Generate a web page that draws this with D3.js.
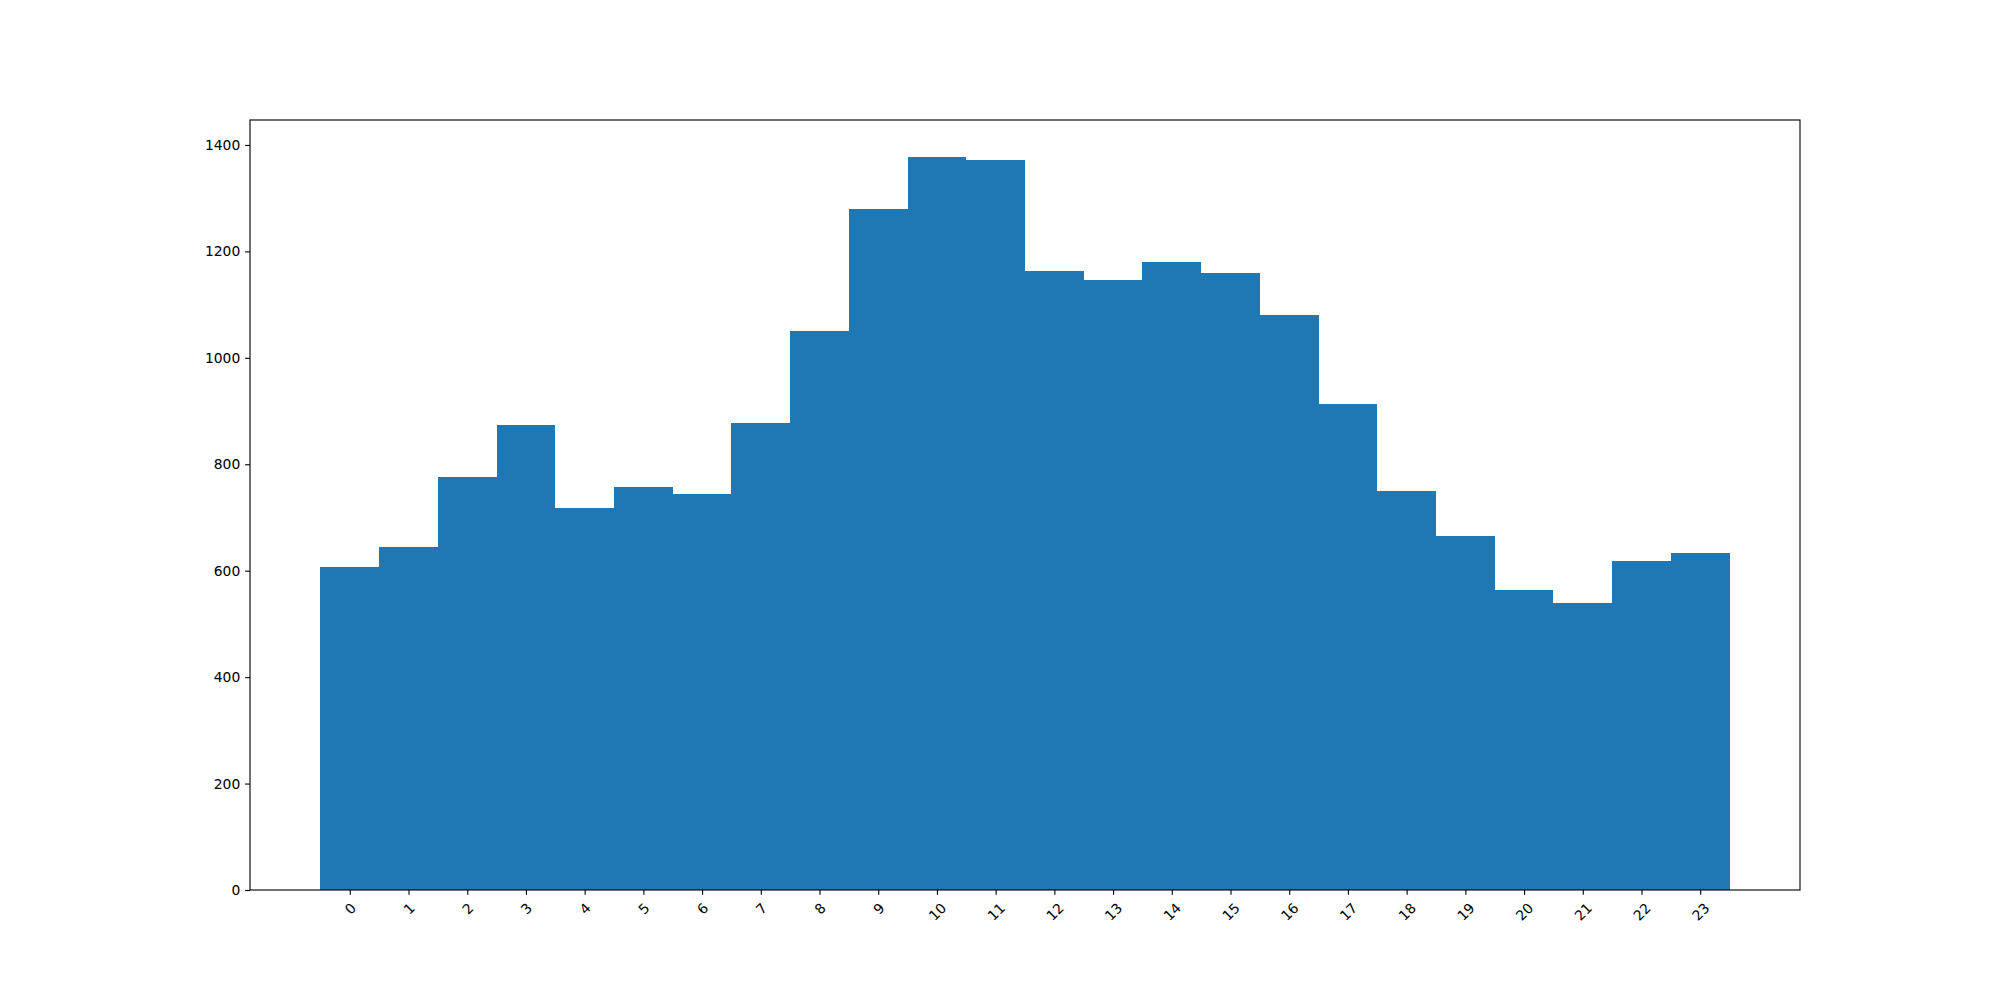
<!DOCTYPE html>
<html>
<head>
<meta charset="utf-8">
<script src="https://cdn.jsdelivr.net/npm/d3@7"></script>
<style>
  html, body { margin: 0; padding: 0; background: #fff; }
  svg { display: block; }
  text { font-family: "DejaVu Sans", sans-serif; fill: #000; }
</style>
</head>
<body>
<script>
// Data: counts per hour of day
const hours = [0,1,2,3,4,5,6,7,8,9,10,11,12,13,14,15,16,17,18,19,20,21,22,23];
const counts = [607,645,777,873,718,758,745,878,1051,1279,1378,1371,1164,1147,1181,1159,1081,914,750,666,564,540,619,634];
const yTicks = [0,200,400,600,800,1000,1200,1400];

(function () {
const W = 2000, H = 1000;
const mLeft = 250, mRight = 1800, mTop = 120, mBottom = 890;
const fontPx = 10 * 100 / 72;
const tickLen = 3.5 * 100 / 72;
const pad = 3.5 * 100 / 72;
const spineW = 0.8 * 100 / 72;

const svg = d3.select("body").append("svg").attr("width", W).attr("height", H);

const xMin = -0.5, xMax = 23.5;
const xm = (xMax - xMin) * 0.05;
const x = d3.scaleLinear().domain([xMin - xm, xMax + xm]).range([mLeft, mRight]);
const yMax = d3.max(counts) * 1.05;
const y = d3.scaleLinear().domain([0, yMax]).range([mBottom, mTop]);

// bars
svg.append("g").selectAll("rect").data(hours).join("rect")
  .attr("x", (d) => Math.round(x(d - 0.5)))
  .attr("width", (d) => Math.round(x(d + 0.5)) - Math.round(x(d - 0.5)))
  .attr("y", (d, i) => Math.round(y(counts[i])))
  .attr("height", (d, i) => Math.round(y(0)) - Math.round(y(counts[i])))
  .attr("fill", "#1f77b4")
  .attr("shape-rendering", "crispEdges");

// y axis
const yAxis = d3.axisLeft(y).tickValues(yTicks).tickSize(tickLen).tickPadding(pad).tickFormat(d3.format("d"));
const gy = svg.append("g").attr("transform", `translate(${mLeft},0)`).call(yAxis);
gy.select(".domain").remove();
gy.selectAll(".tick line").attr("stroke", "#000").attr("stroke-width", spineW);
gy.selectAll(".tick text").attr("font-size", fontPx).attr("font-family", "DejaVu Sans").attr("fill", "#000");

// x axis
const xAxis = d3.axisBottom(x).tickValues(hours).tickSize(tickLen).tickPadding(pad).tickFormat(d3.format("d"));
const gx = svg.append("g").attr("transform", `translate(0,${mBottom})`).call(xAxis);
gx.select(".domain").remove();
gx.selectAll(".tick line").attr("stroke", "#000").attr("stroke-width", spineW);
gx.selectAll(".tick text")
  .attr("font-size", fontPx).attr("font-family", "DejaVu Sans").attr("fill", "#000")
  .attr("dy", null)
  .attr("text-anchor", "middle")
  .attr("dominant-baseline", "central")
  .each(function () {
    const t = d3.select(this);
    const w = this.getComputedTextLength();
    const h = fontPx * 1.16;
    const off = tickLen + pad + (w + h) / (2 * Math.SQRT2);
    t.attr("y", off).attr("x", 0).attr("transform", `rotate(-45,0,${off})`);
  });

// frame (spines)
svg.append("rect")
  .attr("x", mLeft).attr("y", mTop)
  .attr("width", mRight - mLeft).attr("height", mBottom - mTop)
  .attr("fill", "none").attr("stroke", "#000").attr("stroke-width", spineW);
})();
</script>
</body>
</html>
